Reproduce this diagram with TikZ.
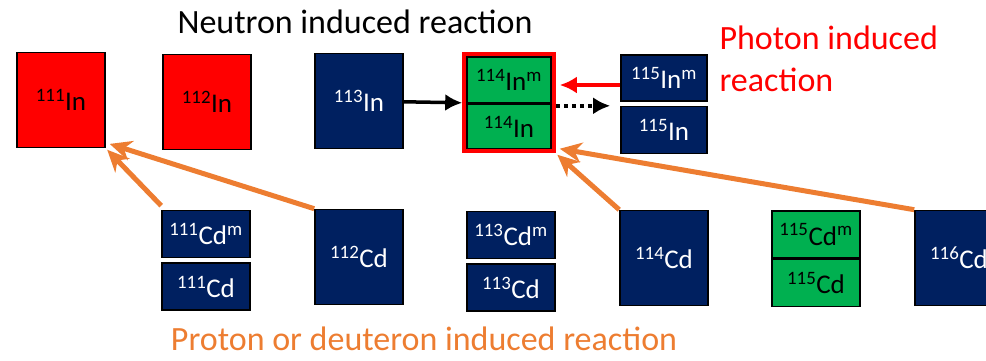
\documentclass[tikz,border=0pt]{standalone}
\usepackage{fontspec}
\setmainfont{Carlito}
\usetikzlibrary{arrows.meta,positioning,fit}
\definecolor{nuclNavy}{RGB}{0, 32, 96}
\definecolor{nuclRed}{RGB}{255, 0, 0}
\definecolor{nuclGreen}{RGB}{0, 176, 80}
\definecolor{nuclOrange}{RGB}{237, 125, 49}

\begin{document}
\begin{tikzpicture}[
  x=1pt,y=-1pt,
  nuclide/.style={
    draw=black,
    line width=1.6pt,
    minimum width=88pt,
    minimum height=95pt,
    inner sep=0pt,
    align=center,
    font=\fontsize{27}{30}\selectfont
  },
  half/.style={nuclide,minimum height=47pt},
  stable/.style={fill=nuclNavy,text=white},
  short/.style={fill=nuclRed,text=black},
  produced/.style={fill=nuclGreen,text=black},
  title/.style={font=\fontsize{34}{42}\selectfont,align=left},
  narrow/.style={-{Latex[length=17pt,width=17pt]},line width=3.5pt,black},
  parrow/.style={-{Stealth[length=22pt,width=20pt]},line width=5pt,nuclOrange,shorten >=2pt}
]
  \useasboundingbox (0,0) rectangle (986,360);

  % indium row
  \node[nuclide,short] (in111) at (61,100) {\textsuperscript{111}In};
  \node[nuclide,short] (in112) at (207,102) {\textsuperscript{112}In};
  \node[nuclide,stable] (in113) at (359,101) {\textsuperscript{113}In};
  \node[half,produced,minimum width=84pt,minimum height=46pt] (in114m) at (509,80)
    {\textsuperscript{114}In\textsuperscript{m}};
  \node[half,produced,minimum width=84pt,minimum height=44pt,below=0pt of in114m] (in114)
    {\textsuperscript{114}In};
  \node[draw=nuclRed,line width=4pt,inner sep=2pt,fit=(in114m)(in114)] (box114) {};
  \node[half,stable,minimum width=86pt,minimum height=46pt] (in115m) at (664,78)
    {\textsuperscript{115}In\textsuperscript{m}};
  \node[half,stable,minimum width=86pt,below=4pt of in115m] (in115)
    {\textsuperscript{115}In};

  % cadmium row
  \node[half,stable] (cd111m) at (206,234) {\textsuperscript{111}Cd\textsuperscript{m}};
  \node[half,stable,below=4pt of cd111m] (cd111) {\textsuperscript{111}Cd};
  \node[nuclide,stable] (cd112) at (359,257) {\textsuperscript{112}Cd};
  \node[half,stable] (cd113m) at (511,235) {\textsuperscript{113}Cd\textsuperscript{m}};
  \node[half,stable,below=4pt of cd113m] (cd113) {\textsuperscript{113}Cd};
  \node[nuclide,stable] (cd114) at (664,258) {\textsuperscript{114}Cd};
  \node[half,produced] (cd115m) at (816,234.5) {\textsuperscript{115}Cd\textsuperscript{m}};
  \node[half,produced,below=0pt of cd115m] (cd115) {\textsuperscript{115}Cd};
  \node[nuclide,stable] (cd116) at (959,258) {\textsuperscript{116}Cd};

  % labels
  \node[title] (neutron) at (355,22) {Neutron induced reaction};
  \node[title,text=nuclRed,anchor=north west] (photon) at (716,22)
    {Photon induced\\reaction};
  \node[title,text=nuclOrange] (proton) at (424,339) {Proton or deuteron induced reaction};

  % reactions
  \draw[narrow] (in113) -- (box114.west);
  \draw[narrow,dash pattern=on 4pt off 4pt,shorten >=10pt]
    ([yshift=-3pt]box114.east) -- ([yshift=-3pt]box114.east -| in115.west);
  \draw[narrow,nuclRed,line width=4pt,shorten >=4pt]
    ([yshift=-7pt]in115m.west) -- ([yshift=-7pt]in115m.west -| box114.east);
  \draw[parrow] ([shift={(0pt,4pt)}]cd111m.north west) -- (in111.south east);
  \draw[parrow] (cd112.north west) -- ([shift={(2pt,5pt)}]in111.south east);
  \draw[parrow] (cd114.north west) -- (box114.south east);
  \draw[parrow] (cd116.north west) -- ([shift={(2pt,5pt)}]box114.south east);
\end{tikzpicture}
\end{document}
